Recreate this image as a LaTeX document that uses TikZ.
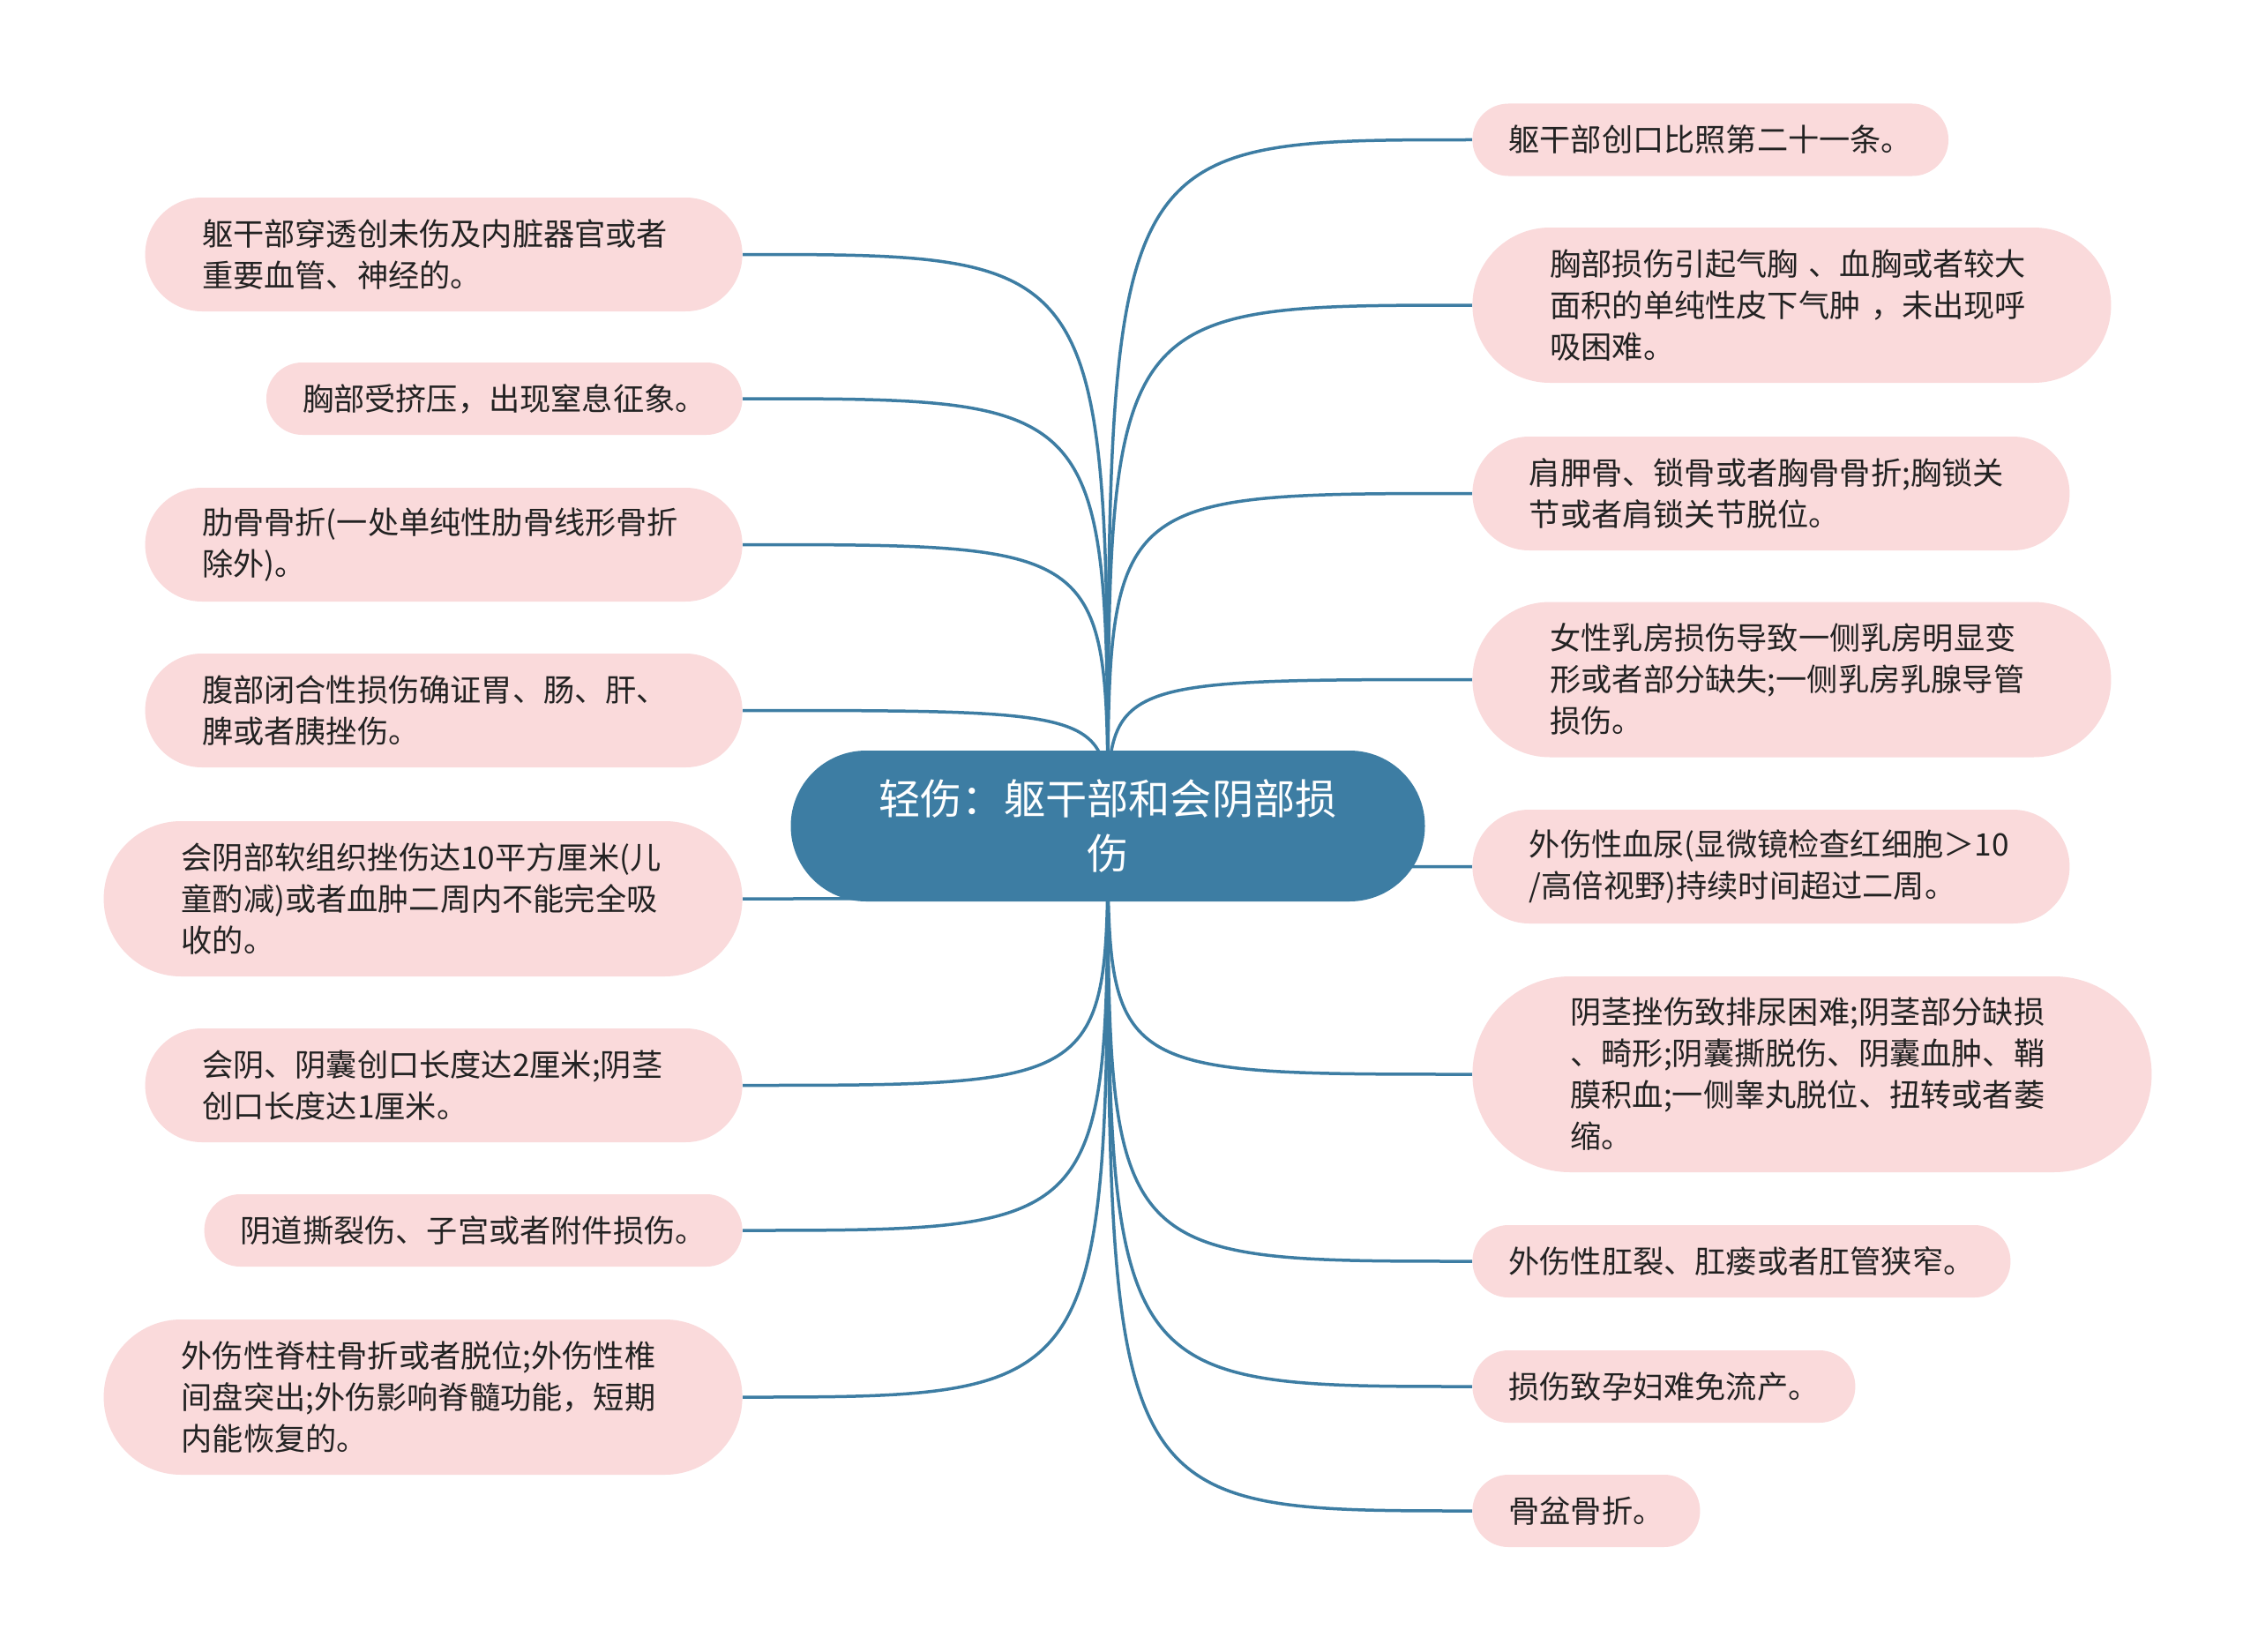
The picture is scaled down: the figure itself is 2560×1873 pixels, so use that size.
\documentclass[tikz,border=0pt]{standalone}
\usepackage{fontspec}
\setmainfont{Noto Sans CJK SC}
\usepackage{xcolor}
\usetikzlibrary{backgrounds}

\definecolor{rootblue}{HTML}{3D7DA3}
\definecolor{leafpink}{HTML}{FADADB}
\definecolor{leaftext}{HTML}{222222}

\begin{document}
\begin{tikzpicture}[
    x=0.5pt, y=-0.5pt,
    root/.style={rectangle, fill=rootblue, text=white, text width=274pt, align=center, inner xsep=42.75pt, inner ysep=0pt, minimum height=85.5pt, rounded corners=42.7pt, font=\fontsize{23.6}{31}\selectfont},
    leaf/.style={rectangle, fill=leafpink, text=leaftext, inner ysep=0pt, rows1, font=\fontsize{17.6}{23.5}\selectfont},
    rows1/.style={minimum height=41pt, inner xsep=20.5pt, rounded corners=20.4pt},
    rows2/.style={text width=274pt, align=left, minimum height=64.5pt, inner xsep=32.25pt, rounded corners=32.2pt},
    rows3/.style={text width=274pt, align=left, minimum height=88pt, inner xsep=44pt, rounded corners=43.9pt},
    rows4/.style={text width=274pt, align=left, minimum height=111pt, inner xsep=55.5pt, rounded corners=55.4pt},
    edge/.style={draw=rootblue, line width=1.75pt}
]
\useasboundingbox (0,0) rectangle (2560,1873);

% Central topic
\node[root] (root) at (1256,936.5) {轻伤：躯干部和会阴部损\\伤};

% Left branches
\node[leaf, rows2, anchor=east] (l1) at (842,288.5) {躯干部穿透创未伤及内脏器官或者\\重要血管、神经的。};
\node[leaf, anchor=east] (l2) at (842,452) {胸部受挤压，出现窒息征象。};
\node[leaf, rows2, anchor=east] (l3) at (842,617.5) {肋骨骨折(一处单纯性肋骨线形骨折\\除外)。};
\node[leaf, rows2, anchor=east] (l4) at (842,805.5) {腹部闭合性损伤确证胃、肠、肝、\\脾或者胰挫伤。};
\node[leaf, rows3, anchor=east] (l5) at (842,1019) {会阴部软组织挫伤达10平方厘米(儿\\童酌减)或者血肿二周内不能完全吸\\收的。};
\node[leaf, rows2, anchor=east] (l6) at (842,1230.5) {会阴、阴囊创口长度达2厘米;阴茎\\创口长度达1厘米。};
\node[leaf, anchor=east] (l7) at (842,1395) {阴道撕裂伤、子宫或者附件损伤。};
\node[leaf, rows3, anchor=east] (l8) at (842,1584) {外伤性脊柱骨折或者脱位;外伤性椎\\间盘突出;外伤影响脊髓功能，短期\\内能恢复的。};

% Right branches
\node[leaf, anchor=west] (r1) at (1669,158.5) {躯干部创口比照第二十一条。};
\node[leaf, rows3, anchor=west] (r2) at (1669,346) {胸部损伤引起气胸 、血胸或者较大\\面积的单纯性皮下气肿 ，未出现呼\\吸困难。};
\node[leaf, rows2, anchor=west] (r3) at (1669,559.5) {肩胛骨、锁骨或者胸骨骨折;胸锁关\\节或者肩锁关节脱位。};
\node[leaf, rows3, anchor=west] (r4) at (1669,770.5) {女性乳房损伤导致一侧乳房明显变\\形或者部分缺失;一侧乳房乳腺导管\\损伤。};
\node[leaf, rows2, anchor=west] (r5) at (1669,982.5) {外伤性血尿(显微镜检查红细胞＞10\\/高倍视野)持续时间超过二周。};
\node[leaf, rows4, anchor=west] (r6) at (1669,1218) {阴茎挫伤致排尿困难;阴茎部分缺损\\、畸形;阴囊撕脱伤、阴囊血肿、鞘\\膜积血;一侧睾丸脱位、扭转或者萎\\缩。};
\node[leaf, anchor=west] (r7) at (1669,1430) {外伤性肛裂、肛瘘或者肛管狭窄。};
\node[leaf, anchor=west] (r8) at (1669,1572) {损伤致孕妇难免流产。};
\node[leaf, anchor=west] (r9) at (1669,1713) {骨盆骨折。};

% Connections
\begin{scope}[on background layer]
    \fill[white] (0,0) rectangle (2560,1873);
    \foreach \n in {l1,l2,l3,l4,l5,l6,l7,l8}
        \draw[edge] (root.center) .. controls (root.center |- \n.east) .. (\n.east);
    \foreach \n in {r1,r2,r3,r4,r5,r6,r7,r8,r9}
        \draw[edge] (root.center) .. controls (root.center |- \n.west) .. (\n.west);
\end{scope}

\end{tikzpicture}
\end{document}
